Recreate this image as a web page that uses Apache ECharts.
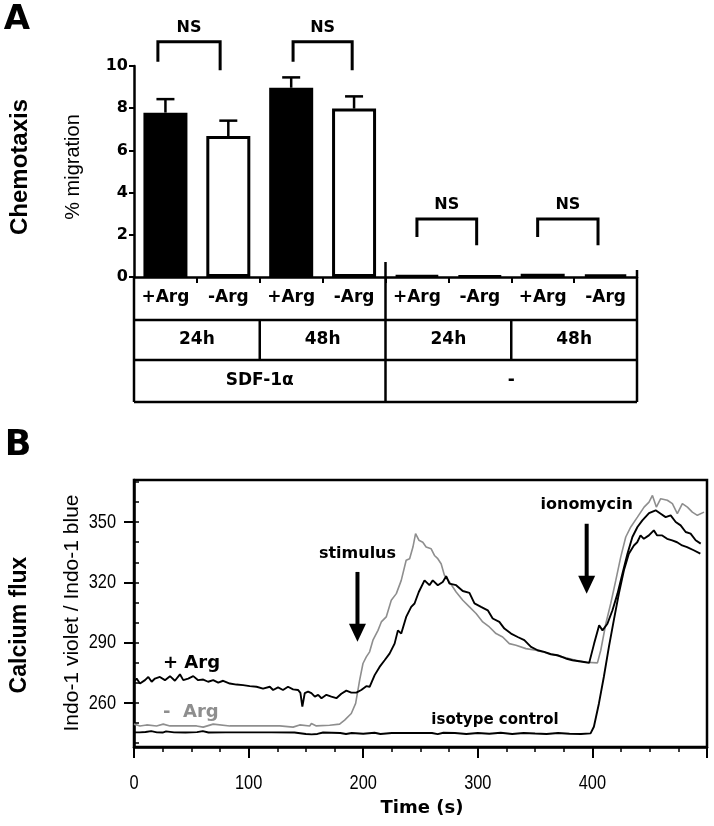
<!DOCTYPE html>
<html><head><meta charset="utf-8">
<script src="https://cdn.jsdelivr.net/npm/echarts@6/dist/echarts.min.js"></script>
<style>html,body{margin:0;padding:0;background:#fff}#main{width:714px;height:826px}</style>
</head><body><div id="main"></div>
<script>
// ---------- Panel A data ----------
const groupLabels = ['+Arg','-Arg','+Arg','-Arg','+Arg','-Arg','+Arg','-Arg'];
const timeLabels = ['24h','48h','24h','48h'];
const stimulusLabels = ['SDF-1\u03b1','-'];
const migrationMean = [7.79, 6.68, 8.97, 7.98, 0.06, 0.05, 0.15, 0.12];
const migrationSem  = [0.64, 0.73, 0.49, 0.58, 0, 0, 0, 0];
const migrationTicks = [0, 2, 4, 6, 8, 10];
const nsPairs = [[0,1],[2,3],[4,5],[6,7]];
const nsTop = [11.15, 11.15, 2.75, 2.75];
const nsLegLeft = [10.2, 10.2, 1.9, 1.9];
const nsLegRight = [9.8, 9.8, 1.5, 1.5];

// ---------- Panel B data ----------
const timeTicks = [0, 100, 200, 300, 400];
const ratioTicks = [260, 290, 320, 350];
const ratioMinorTicks = [240,250,260,270,280,290,300,310,320,330,340,350,360,370];
const plusArg = [[0,270.5],[2.3,272.1],[5.2,269.6],[9.6,271.3],[12.5,272.9],[15.4,270.5],[18.3,272.1],[22.6,272.9],[27,271.3],[31.4,273.3],[35.7,271],[40.1,274.2],[43,271.3],[47.3,272.1],[51.7,273.3],[56,271.3],[60.4,271.6],[64.7,270.5],[69.1,271.3],[73.5,270.1],[77.8,271],[83.6,269.6],[89.4,269.1],[95.2,268.8],[101,268.3],[106.9,268],[112.6,267.1],[118.5,268],[121.4,266.4],[125.7,267.7],[130,266.4],[134.4,268],[138.8,266.7],[143.1,266.4],[145.2,265],[146.9,258.1],[149,264.8],[151.9,265.6],[154.8,264.8],[157.8,263.1],[160.7,264],[163.6,262.3],[167.9,264],[172.2,263.1],[176.6,262.3],[180.9,264.5],[185.3,266.1],[189.6,265.1],[194,265.1],[198.3,266.4],[202.7,268.3],[205.6,268],[210,273.8],[214.3,277.9],[218.7,281.2],[223,284.5],[227.4,289.5],[230.3,296.1],[233.2,294.5],[237.5,302.8],[241.9,307.8],[244.8,309.5],[248.5,315.2],[253.5,321],[257.8,318.6],[260.7,321],[265.1,318.6],[269.4,320.2],[272.4,323.1],[275.3,319.4],[281.1,318.6],[286.9,315.7],[292.7,314.8],[297.1,309.5],[302.8,307.8],[308.7,306.1],[313,302],[318.8,300.3],[323.2,297],[329,294.5],[334.8,292.8],[340.6,291.2],[346.4,287.9],[352.2,286.2],[358,285.4],[363.8,284.2],[369.6,283.7],[376.8,282.1],[382.6,281.2],[388.4,280.7],[394.2,280.2],[397.2,279.9],[401.5,289.5],[405.9,298.6],[408.8,296.1],[413.1,299.4],[417.5,306.1],[421.9,314.4],[426.2,324.3],[430.6,334.3],[434.9,342.6],[439.3,347.6],[443.6,350.9],[449.4,354.5],[455.2,355.9],[459.6,354.2],[463.9,352.5],[468.3,353.4],[472.7,350.1],[477,348.4],[481.4,345.1],[485.7,344.3],[490.1,341],[494.5,339.3]];
const minusArg = [[0,249.4],[5.2,248.5],[11,249],[19.7,248.5],[25.5,249.4],[31.4,248.5],[43,248.5],[54.6,248.5],[60.4,247.9],[69.1,249.4],[83.6,248.5],[98.1,248.5],[112.6,248.5],[127.2,248.5],[138.8,247.9],[144.6,249],[153.3,248.5],[154.8,249.7],[159.1,248.5],[170.7,248.8],[179.4,249.4],[183.8,251.4],[189.6,254.7],[193.4,259.7],[195.4,266.3],[196.9,271.3],[199.8,279.6],[202.7,282.9],[205.6,285.4],[208.5,291.2],[212.9,296.1],[215.8,300.3],[220.1,302.8],[224.5,311.1],[228.9,314.4],[233.2,321],[237.5,331],[240.5,331.8],[243.4,337.6],[245.7,344.3],[248.6,341],[252,340],[254.9,337.6],[259.3,336.7],[262.2,333.4],[265.1,331.8],[268,329.3],[270.9,323.5],[275.3,320.2],[281.1,315.2],[286.9,311.1],[292.7,307.8],[298.5,304.5],[304.3,300.3],[310.1,297.8],[315.9,294.5],[321.7,292.8],[327.5,289.5],[333.3,288.7],[342,287],[350.7,286.2],[359.4,284.9],[368.1,283.7],[376.8,282.4],[385.5,281.2],[394.2,280.2],[404.4,279.9],[407.3,286.2],[411.7,299.4],[416,309.5],[420.4,321],[424.7,332.6],[429.1,342.6],[433.5,347.6],[439.3,352.5],[445.1,357.5],[449.4,360],[452.4,363.3],[455.8,357.5],[459.6,361.7],[465.4,360.9],[469.8,359.2],[474.1,354.2],[478.5,359.2],[482.9,357.5],[487.2,355],[491.6,353.4],[497.4,355]];
const isotypeControl = [[0,245.3],[5,245.3],[10,245.5],[15,245.9],[20,245.3],[25,245.2],[28,245.8],[35,245.3],[45,245.2],[55,245.4],[60,245.9],[65,245.2],[80,245.3],[100,245.3],[120,245.3],[140,245.2],[150,244.5],[155,244.3],[160,244.5],[165,245.2],[180,245],[185,244.5],[190,245],[200,244.6],[210,245.1],[215,244.5],[225,245],[240,245],[260,245],[265,244.4],[270,245.1],[280,245],[290,244.5],[300,245],[310,244.6],[320,245.1],[330,244.5],[340,245],[350,244.7],[360,244.5],[370,245],[380,244.6],[390,244.5],[398.4,244.8],[401.3,248.1],[405.7,259.7],[410,273],[414.4,287.9],[418.7,301.2],[423.1,314.4],[427.5,326],[431.8,334.3],[436.2,338.4],[439.1,340],[442,343.4],[444.9,341.7],[449.3,343.4],[453.6,345.9],[456.5,343.4],[460.9,343.4],[465.2,341.7],[469.6,340.9],[473.9,340],[478.3,338.4],[482.6,337.6],[488.4,336],[494.2,334.3]];
const arrowTimes = [195, 395];
const arrowTop = [325.2, 349.2];
const arrowTip = [290.4, 314.4];
const arrowLabels = ['stimulus', 'ionomycin'];

// ---------- chart ----------
const BOLD = '"DejaVu Sans", sans-serif';
const REG = '"Liberation Sans", Arial, sans-serif';
const chart = echarts.init(document.getElementById('main'), null, {renderer: 'canvas'});

const option = {
  animation: false,
  backgroundColor: '#fff',
  grid: [
    {left: 134, top: 66, width: 503, height: 211},
    {left: 134, right: 7, top: 480, bottom: 79, show: true, borderColor: '#000', borderWidth: 2.5, backgroundColor: 'transparent'}
  ],
  xAxis: [
    {type: 'value', gridIndex: 0, min: 0, max: 8, interval: 1,
     axisLine: {show: true, lineStyle: {color: '#000', width: 2.5}},
     axisTick: {show: true, length: 6, lineStyle: {color: '#000', width: 2}},
     axisLabel: {show: false}, splitLine: {show: false}},
    {type: 'value', gridIndex: 1, min: 0, max: 500, interval: 100,
     axisLine: {show: true, onZero: false, lineStyle: {color: '#000', width: 2.5}},
     axisTick: {show: true, length: 11, lineStyle: {color: '#000', width: 2}},
     minorTick: {show: true, splitNumber: 4, length: 5, lineStyle: {color: '#000', width: 1.5}},
     axisLabel: {show: false},
     splitLine: {show: false}, minorSplitLine: {show: false}}
  ],
  yAxis: [
    {type: 'value', gridIndex: 0, min: 0, max: 10, interval: 2,
     axisLine: {show: true, lineStyle: {color: '#000', width: 2.5}},
     axisTick: {show: true, length: 5, lineStyle: {color: '#000', width: 2}},
     axisLabel: {show: true, margin: 6, fontFamily: BOLD, fontWeight: 'bold', fontSize: 16, color: '#000',
       customValues: migrationTicks},
     splitLine: {show: false}},
    {type: 'value', gridIndex: 1, min: 238, max: 371,
     axisLine: {show: true, onZero: false, lineStyle: {color: '#000', width: 2.5}},
     axisTick: {show: true, length: 10, customValues: ratioTicks, lineStyle: {color: '#000', width: 2}},
     axisLabel: {show: false},
     splitLine: {show: false}},
    {type: 'value', gridIndex: 1, min: 238, max: 371,
     axisLine: {show: false},
     axisTick: {show: true, length: 5, customValues: ratioMinorTicks, lineStyle: {color: '#000', width: 1.5}},
     axisLabel: {show: false}, splitLine: {show: false}}
  ],
  series: [
    {type: 'bar', xAxisIndex: 0, yAxisIndex: 0, barWidth: 44, z: 3,
     data: migrationMean.map((v, i) => ({value: [i + 0.5, v],
       itemStyle: {color: i % 2 === 0 ? '#000' : '#fff', borderColor: '#000', borderWidth: 3}}))},
    {type: 'custom', xAxisIndex: 0, yAxisIndex: 0, z: 4, clip: false,
     data: migrationMean.map((m, i) => [i + 0.5, m, m + migrationSem[i]]).filter(d => d[2] > d[1]),
     renderItem: (params, api) => {
       const a = api.coord([api.value(0), api.value(1)]);
       const b = api.coord([api.value(0), api.value(2)]);
       return {type: 'group', children: [
         {type: 'line', shape: {x1: a[0], y1: a[1], x2: b[0], y2: b[1]}, style: {stroke: '#000', lineWidth: 2.5}},
         {type: 'line', shape: {x1: b[0] - 9, y1: b[1], x2: b[0] + 9, y2: b[1]}, style: {stroke: '#000', lineWidth: 2.5}}
       ]};
     }},
    {type: 'custom', xAxisIndex: 0, yAxisIndex: 0, z: 5, clip: false,
     data: nsPairs.map((p, k) => [p[0], p[1], nsTop[k], nsLegLeft[k], nsLegRight[k], k]),
     renderItem: (params, api) => {
       const shifts = [[-0.12, -0.13], [0.03, -0.03], [0, -0.05], [-0.08, -0.12]];
       const k = api.value(5);
       const xl = api.value(0) + 0.5 + shifts[k][0], xr = api.value(1) + 0.5 + shifts[k][1];
       const a = api.coord([xl, api.value(3)]), b = api.coord([xl, api.value(2)]);
       const c = api.coord([xr, api.value(2)]), d = api.coord([xr, api.value(4)]);
       return {type: 'group', children: [
         {type: 'polyline', shape: {points: [a, b, c, d]}, style: {stroke: '#000', lineWidth: 3, fill: null}},
         {type: 'text', style: {text: 'NS', x: (b[0] + c[0]) / 2, y: b[1] - 14, align: 'center', verticalAlign: 'middle',
           font: 'bold 16px ' + BOLD, fill: '#000'}}
       ]};
     }},
    {type: 'line', xAxisIndex: 1, yAxisIndex: 1, data: minusArg, showSymbol: false, z: 2,
     lineStyle: {color: '#8e8e8e', width: 1.6}},
    {type: 'line', xAxisIndex: 1, yAxisIndex: 1, data: isotypeControl, showSymbol: false, z: 3,
     lineStyle: {color: '#000', width: 1.9}},
    {type: 'line', xAxisIndex: 1, yAxisIndex: 1, data: plusArg, showSymbol: false, z: 3,
     lineStyle: {color: '#000', width: 1.9}},
    {type: 'custom', xAxisIndex: 1, yAxisIndex: 1, z: 6, clip: false,
     data: arrowTimes.map((t, i) => [t, arrowTop[i], arrowTip[i], i]),
     renderItem: (params, api) => {
       const p1 = api.coord([api.value(0), api.value(1)]);
       const p2 = api.coord([api.value(0), api.value(2)]);
       const x = p1[0];
       return {type: 'group', children: [
         {type: 'line', shape: {x1: x, y1: p1[1], x2: x, y2: p2[1] - 14}, style: {stroke: '#000', lineWidth: 4}},
         {type: 'polygon', shape: {points: [[x - 8.5, p2[1] - 18], [x + 8.5, p2[1] - 18], [x, p2[1]]]}, style: {fill: '#000'}},
         {type: 'text', style: {text: arrowLabels[api.value(3)], x: x, y: p1[1] - 18.5, align: 'center', verticalAlign: 'middle',
           font: 'bold 16px ' + BOLD, fill: '#000'}}
       ]};
     }}
  ]
};
chart.setOption(option);

// ---------- table under panel A, narrow tick labels of panel B, free text ----------
const P = (x, y) => chart.convertToPixel({gridIndex: 0}, [x, y]);
const Q = (x, y) => chart.convertToPixel({xAxisIndex: 1, yAxisIndex: 1}, [x, y]);
const y0 = P(0, 0)[1];
const xL = P(0, 0)[0], xR = P(8, 0)[0];
const rows = [43, 83, 125];
const g = [];
const ln = (x1, y1, x2, y2) => ({type: 'line', shape: {x1, y1, x2, y2}, style: {stroke: '#000', lineWidth: 2.5}, z: 50});
const txt = (text, x, y, font, o = {}) => ({type: 'text', x, y, rotation: o.rot || 0, scaleX: o.sx || 1, z: 60,
  style: {text, x: 0, y: 0, font, fill: o.fill || '#000', align: o.align || 'center', verticalAlign: 'middle'}});
rows.forEach(r => g.push(ln(xL, y0 + r, xR, y0 + r)));
g.push(ln(xL, y0, xL, y0 + 125));
g.push(ln(P(4, 0)[0], y0 - 15, P(4, 0)[0], y0 + 125));
g.push(ln(xR, y0 - 7, xR, y0 + 125));
[2, 6].forEach(c => g.push(ln(P(c, 0)[0], y0 + 43, P(c, 0)[0], y0 + 83)));
groupLabels.forEach((s, i) => g.push(txt(s, P(i + 0.5, 0)[0], y0 + 21, 'bold 17px ' + BOLD)));
timeLabels.forEach((s, i) => g.push(txt(s, P(2 * i + 1, 0)[0], y0 + 63, 'bold 17px ' + BOLD)));
stimulusLabels.forEach((s, i) => g.push(txt(s, P(4 * i + 2, 0)[0], y0 + 104, 'bold 17px ' + BOLD)));

const yB = Q(0, 238)[1];
const xB = Q(0, 238)[0];
timeTicks.forEach(t => g.push(txt(String(t), Q(t, 238)[0], yB + 36, '21px ' + REG, {sx: 0.78})));
ratioTicks.forEach(v => g.push(txt(String(v), xB - 18, Q(0, v)[1], '21px ' + REG, {sx: 0.78, align: 'right'})));

g.push(txt('A', 17, 20, 'bold 34px ' + BOLD));
g.push(txt('B', 18, 446, 'bold 35px ' + BOLD));
g.push(txt('Chemotaxis', 20, 167, 'bold 24px ' + REG, {rot: Math.PI / 2}));
g.push(txt('% migration', 73, 167, '20px ' + REG, {rot: Math.PI / 2}));
g.push(txt('Calcium flux', 20, 625, 'bold 23px ' + REG, {rot: Math.PI / 2}));
g.push(txt('Indo-1 violet / Indo-1 blue', 72, 613, '21px ' + REG, {rot: Math.PI / 2}));
g.push(txt('Time (s)', 422, 808, 'bold 18px ' + BOLD));
g.push(txt('+ Arg', 163, 663, 'bold 18px ' + BOLD, {align: 'left'}));
g.push(txt('-  Arg', 163, 712, 'bold 18px ' + BOLD, {align: 'left', fill: '#8e8e8e'}));
g.push(txt('isotype control', 495, 720, 'bold 15px ' + BOLD));
chart.setOption({graphic: g});
</script></body></html>
